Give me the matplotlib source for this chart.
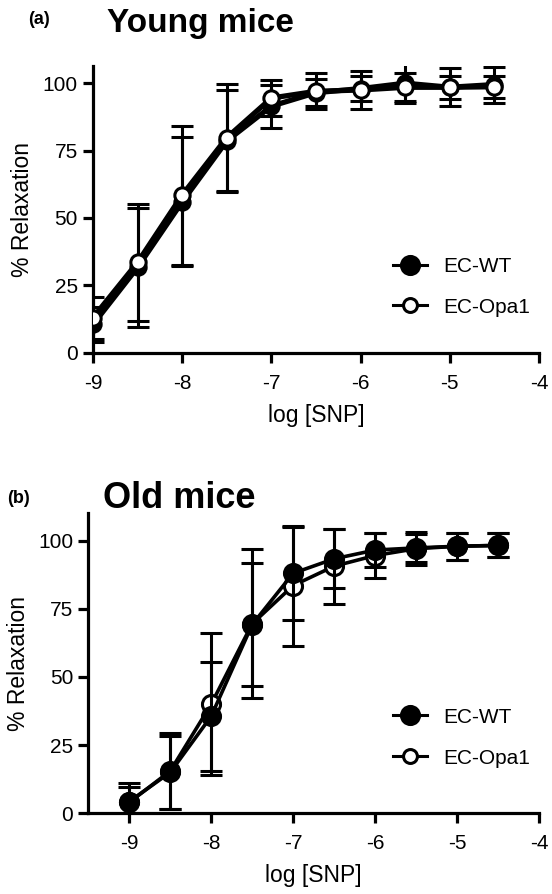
import matplotlib
matplotlib.use("Agg")
import matplotlib.pyplot as plt
from matplotlib.lines import Line2D
import numpy as np

plt.rcParams['font.family'] = ['Liberation Sans', 'DejaVu Sans']

log_snp = [-9, -8.5, -8, -7.5, -7, -6.5, -6, -5.5, -5, -4.5]

# Panel (a) Young mice
young_wt = [10.5, 31.7, 56.0, 78.6, 91.5, 96.5, 98.0, 100.0, 98.5, 99.5]
young_wt_err = [6.5, 22.0, 24.0, 19.0, 8.0, 5.0, 4.6, 7.4, 4.2, 6.7]
young_opa1 = [13.0, 33.5, 58.5, 79.8, 94.5, 97.0, 97.5, 98.5, 98.5, 98.7]
young_opa1_err = [7.8, 21.7, 25.8, 19.8, 6.7, 6.7, 7.0, 5.2, 7.0, 4.0]

# Panel (b) Old mice
old_wt = [4.3, 15.0, 35.6, 69.2, 88.0, 93.3, 96.5, 97.3, 97.9, 98.2]
old_wt_err = [6.7, 13.5, 20.0, 22.6, 17.0, 10.8, 6.3, 5.0, 5.0, 4.4]
old_opa1 = [4.0, 15.5, 40.0, 69.5, 83.5, 90.6, 94.5, 97.0, 97.9, 98.2]
old_opa1_err = [5.8, 14.0, 26.0, 27.3, 22.0, 13.8, 8.3, 6.0, 5.0, 4.4]

xticks = [-9, -8, -7, -6, -5, -4]
yticks = [0, 25, 50, 75, 100]

fig = plt.figure(figsize=(5.52, 8.94), dpi=100)

def setup(ax, xlim, ylim):
    ax.set_xlim(*xlim)
    ax.set_ylim(*ylim)
    for s in ['top', 'right']:
        ax.spines[s].set_visible(False)
    for s in ['left', 'bottom']:
        ax.spines[s].set_linewidth(2.3)
    ax.set_xticks(xticks)
    ax.set_xticklabels([str(t) for t in xticks])
    ax.set_yticks(yticks)
    ax.tick_params(width=2.3, length=7, labelsize=15, direction='out', pad=4)
    ax.tick_params(axis='x', pad=8)
    ax.set_xlabel('log [SNP]', fontsize=16.5, labelpad=8)
    ax.set_ylabel('% Relaxation', fontsize=16.5, labelpad=6)

def draw(ax, wt, wt_err, op, op_err, lw, ms, wt_top, leg_y):
    kw = dict(color='black', ecolor='black', elinewidth=2.2, capsize=8, capthick=2.2,
              lw=lw, ms=ms, mew=2.2)
    z_wt, z_op = (4, 3) if wt_top else (3, 4)
    ax.errorbar(log_snp, wt, yerr=wt_err, marker='o', mfc='black', mec='black', zorder=z_wt, **kw)
    ax.errorbar(log_snp, op, yerr=op_err, marker='o', mfc='white', mec='black', zorder=z_op, **kw)
    handles = [Line2D([], [], color='black', lw=2.2, marker='o', ms=13, mfc='black', mec='black', mew=2.2),
               Line2D([], [], color='black', lw=2.2, marker='o', ms=10, mfc='white', mec='black', mew=2.2)]
    ax.legend(handles, ['EC-WT', 'EC-Opa1'], loc='lower right', bbox_to_anchor=(1.022, leg_y),
              frameon=False, fontsize=15, handlelength=1.6, handletextpad=0.8, labelspacing=1.05)

axA = fig.add_axes([0.1685, 0.6055, 0.808, 0.321])
setup(axA, (-9, -4), (0, 106.5))
draw(axA, young_wt, young_wt_err, young_opa1, young_opa1_err, lw=3.8, ms=11, wt_top=False, leg_y=0.06)

axB = fig.add_axes([0.16, 0.0903, 0.8165, 0.3356])
setup(axB, (-9.5, -4), (0, 110))
draw(axB, old_wt, old_wt_err, old_opa1, old_opa1_err, lw=2.6, ms=13, wt_top=True, leg_y=0.09)

fig.text(28 / 552, 1 - 24 / 894, '(a)', fontsize=13, fontweight='bold', va='baseline')
fig.text(107 / 552, 1 - 32 / 894, 'Young mice', fontsize=24, fontweight='bold', va='baseline')
fig.text(7 / 552, 1 - 503 / 894, '(b)', fontsize=13, fontweight='bold', va='baseline')
fig.text(103 / 552, 1 - 508 / 894, 'Old mice', fontsize=26, fontweight='bold', va='baseline')

fig.savefig('out.png', dpi=100)
